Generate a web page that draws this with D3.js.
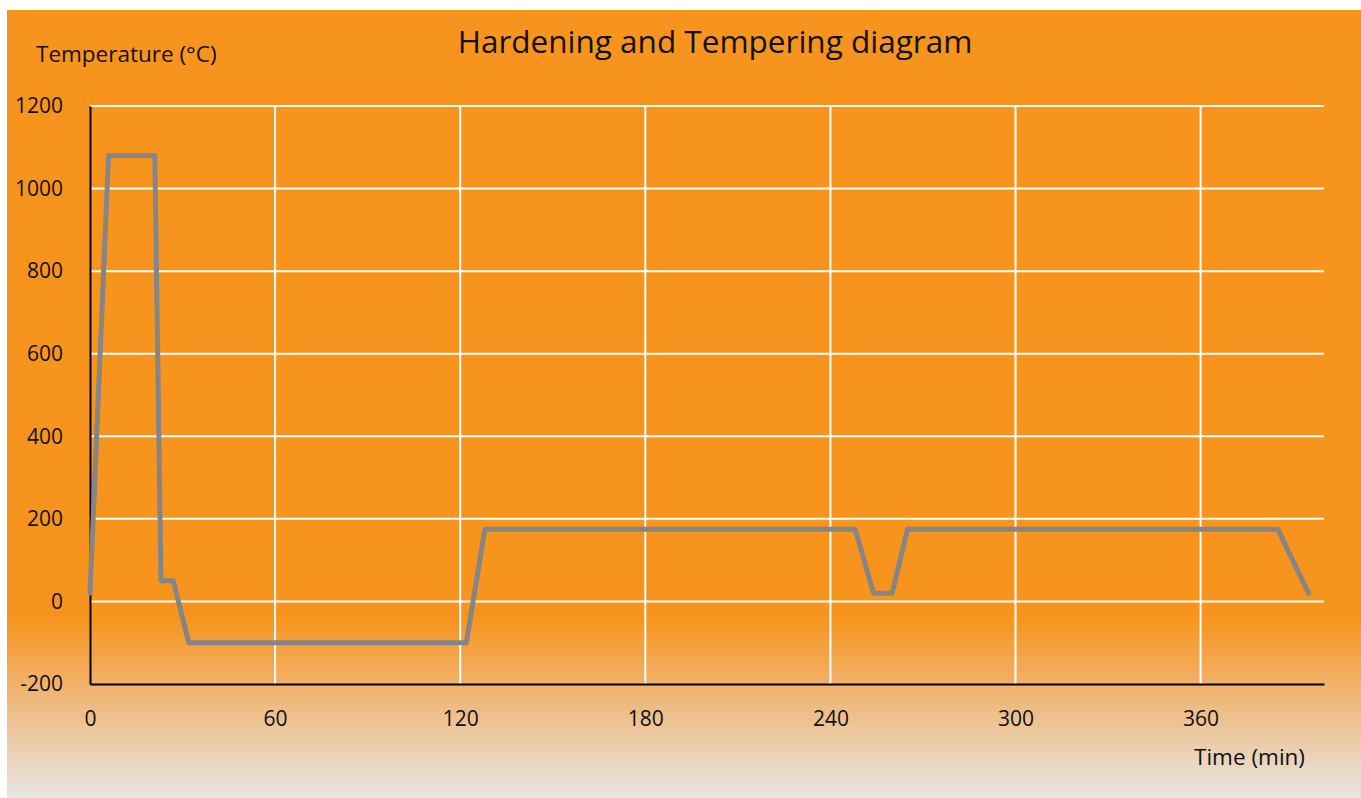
<!DOCTYPE html>
<html>
<head>
<meta charset="utf-8">
<script src="https://cdn.jsdelivr.net/npm/d3@7"></script>
<style>
  body { margin: 0; background: #ffffff; }
  svg { display: block; }
</style>
</head>
<body>
<div id="chart"></div>
<script>
// Heat treatment cycle: time (min) and temperature (°C)
const timeMin = [0, 6, 21, 23, 27, 32, 122, 128, 248, 254, 260, 265, 385, 395];
const tempC   = [20, 1080, 1080, 50, 50, -100, -100, 175, 175, 20, 20, 175, 175, 20];
const xTicks = [0, 60, 120, 180, 240, 300, 360];
const yTicks = [-200, 0, 200, 400, 600, 800, 1000, 1200];

const W = 1361, H = 798;
const margin = { top: 106, right: 37, bottom: 114, left: 90 };
const width = W - margin.left - margin.right;
const height = H - margin.top - margin.bottom;
const font = '"Open Sans", "Noto Sans", sans-serif';

const root = d3.select('#chart').append('svg')
    .attr('width', W)
    .attr('height', H);

// Background gradient (orange fading to grey at bottom)
const grad = root.append('defs').append('linearGradient')
    .attr('id', 'bg-grad')
    .attr('x1', 0).attr('y1', 0).attr('x2', 0).attr('y2', 1);
grad.append('stop').attr('offset', '0%').attr('stop-color', '#F7941D');
grad.append('stop').attr('offset', '77%').attr('stop-color', '#F7941D');
grad.append('stop').attr('offset', '87%').attr('stop-color', '#EFB676');
grad.append('stop').attr('offset', '100%').attr('stop-color', '#E7E6E5');

root.append('rect')
    .attr('x', 7).attr('y', 10)
    .attr('width', W - 7).attr('height', H - 10)
    .attr('fill', 'url(#bg-grad)');

const svg = root.append('g')
    .attr('transform', `translate(${margin.left},${margin.top})`);

const x = d3.scaleLinear().domain([0, 400]).range([0, width]);
const y = d3.scaleLinear().domain([-200, 1200]).range([height, 0]);

// Grid lines
svg.append('g')
    .selectAll('line')
    .data(yTicks.filter(d => d > -200))
    .enter().append('line')
    .attr('x1', 0).attr('x2', width)
    .attr('y1', d => y(d)).attr('y2', d => y(d))
    .attr('stroke', '#ffffff')
    .attr('stroke-width', 2);

svg.append('g')
    .selectAll('line')
    .data(xTicks.filter(d => d > 0))
    .enter().append('line')
    .attr('x1', d => x(d)).attr('x2', d => x(d))
    .attr('y1', 0).attr('y2', height)
    .attr('stroke', '#ffffff')
    .attr('stroke-width', 2);

// Axes
const xAxis = svg.append('g')
    .attr('transform', `translate(0,${height})`)
    .call(d3.axisBottom(x).tickValues(xTicks).tickSize(0).tickPadding(27).tickFormat(d => String(d)));
xAxis.select('.domain').attr('stroke', '#000').attr('stroke-width', 2);
xAxis.selectAll('text')
    .style('font-family', font)
    .style('font-size', '21px')
    .style('fill', '#111');

const yAxis = svg.append('g')
    .call(d3.axisLeft(y).tickValues(yTicks).tickSize(0).tickPadding(27).tickFormat(d => String(d)));
yAxis.select('.domain').attr('stroke', '#000').attr('stroke-width', 2);
yAxis.selectAll('text')
    .style('font-family', font)
    .style('font-size', '21px')
    .style('fill', '#111');

// Data line
const line = d3.line()
    .x((d, i) => x(timeMin[i]))
    .y(d => y(d));

svg.append('path')
    .datum(tempC)
    .attr('fill', 'none')
    .attr('stroke', '#858585')
    .attr('stroke-width', 5)
    .attr('stroke-linejoin', 'round')
    .attr('stroke-linecap', 'round')
    .attr('d', line);

// Titles
root.append('text')
    .attr('x', 715).attr('y', 53)
    .attr('text-anchor', 'middle')
    .style('font-family', font)
    .style('font-size', '31.5px')
    .style('fill', '#111')
    .text('Hardening and Tempering diagram');

root.append('text')
    .attr('x', 36).attr('y', 62)
    .style('font-family', font)
    .style('font-size', '22.5px')
    .style('fill', '#111')
    .text('Temperature (°C)');

root.append('text')
    .attr('x', 1305).attr('y', 765)
    .attr('text-anchor', 'end')
    .style('font-family', font)
    .style('font-size', '22.5px')
    .style('fill', '#111')
    .text('Time (min)');
</script>
</body>
</html>
